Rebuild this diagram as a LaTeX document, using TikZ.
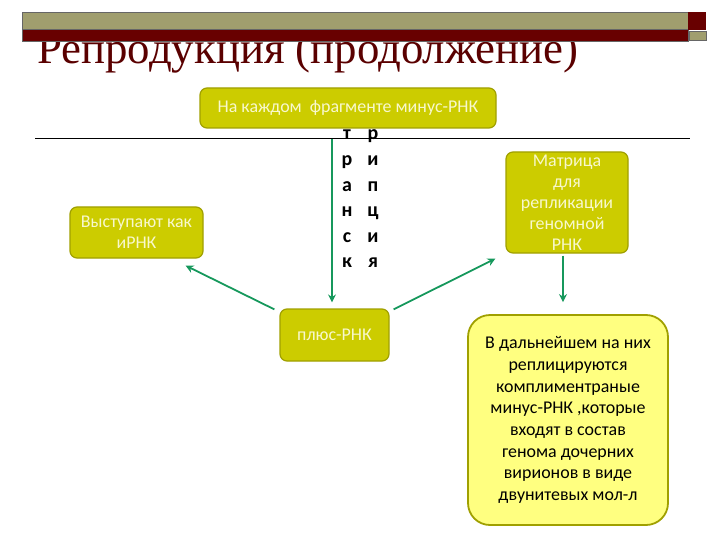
\documentclass[tikz,border=0pt]{standalone}
\usepackage{fontspec}
\usetikzlibrary{arrows.meta}
\setmainfont{Liberation Serif}
\setsansfont{Carlito}
\definecolor{barolive}{RGB}{160,158,110}
\definecolor{barred}{RGB}{104,0,0}
\definecolor{titlered}{RGB}{90,0,0}
\definecolor{boxfill}{RGB}{204,204,0}
\definecolor{boxline}{RGB}{160,160,0}
\definecolor{boxtext}{RGB}{248,248,205}
\definecolor{notefill}{RGB}{255,255,128}
\definecolor{arrowgreen}{RGB}{22,152,92}
\begin{document}
\begin{tikzpicture}[
    x=1bp, y=-1bp,
    box/.style={draw=boxline, fill=boxfill, line width=1.2pt, rounded corners=7bp,
                text=boxtext, font=\sffamily\fontsize{18}{21}\selectfont,
                align=center, inner sep=1pt},
    note/.style={draw=boxline, fill=notefill, line width=1.8pt, rounded corners=22bp,
                 font=\sffamily\fontsize{18}{21.7}\selectfont, align=center,
                 minimum width=200bp, minimum height=210bp},
    letter/.style={font=\sffamily\bfseries\fontsize{20}{22}\selectfont, inner sep=0pt},
    arr/.style={-{Stealth[length=8bp, width=8bp]}, line width=1.8pt, arrowgreen},
]
\useasboundingbox (0,0) rectangle (720,540);

% title under the top bars
\node[anchor=base west, inner sep=0pt, text=titlered,
      font=\rmfamily\fontsize{45}{48}\selectfont] (title) at (37,64)
  {Репродукция (продолжение)};
\draw[black!60, fill=barolive] (22,12) rectangle (688,29);
\draw[black!60, fill=barred] (22,29) rectangle (688,41);
\fill[barred] (688,12) rectangle (706,30);
\draw[black!60, fill=barolive] (689,31) rectangle (706,40);

\draw[thin] (35,138) -- (690,138);

\node[box, minimum width=296bp, minimum height=40bp] (frag) at (348,108)
  {На каждом\ \ фрагменте минус-РНК};
\node[box, minimum width=133bp, minimum height=51bp] (left) at (136.5,232.5)
  {Выступают как\\иРНК};
\node[box, minimum width=122bp, minimum height=101bp] (matrix) at (567,202.5)
  {Матрица\\для\\репликации\\геномной\\РНК};
\node[box, minimum width=109bp, minimum height=52bp] (plus) at (334.5,335)
  {плюс-РНК};
\node[note] (later) at (568,420)
  {В дальнейшем на них\\реплицируются\\комплиментраные\\минус-РНК ,которые\\входят в состав\\генома дочерних\\вирионов в виде\\двунитевых мол-л};

% "транскрипция" in two columns
\foreach \a/\b [count=\i] in {т/р, р/и, а/п, н/ц, с/и, к/я} {
  \node[letter, anchor=base] (t\i) at (347,114.4+25.6*\i) {\a};
  \node[letter, anchor=base] (r\i) at (373,114.4+25.6*\i) {\b};
}

\coordinate (split) at (332,139);
\draw[arr, shorten >=6bp] (split) -- (split |- plus.north);
\draw[arr] ([xshift=-5bp, yshift=-1bp]plus.north west)
  -- ([xshift=-18bp, yshift=-7bp]left.south east);
\draw[arr] ([xshift=4bp, yshift=-1bp]plus.north east)
  -- ([xshift=-10bp, yshift=-5bp]matrix.south west);
\draw[arr, shorten <=2bp, shorten >=12bp] ([xshift=-4bp]matrix.south)
  -- ([xshift=-4bp]matrix.south |- later.north);
\end{tikzpicture}
\end{document}
